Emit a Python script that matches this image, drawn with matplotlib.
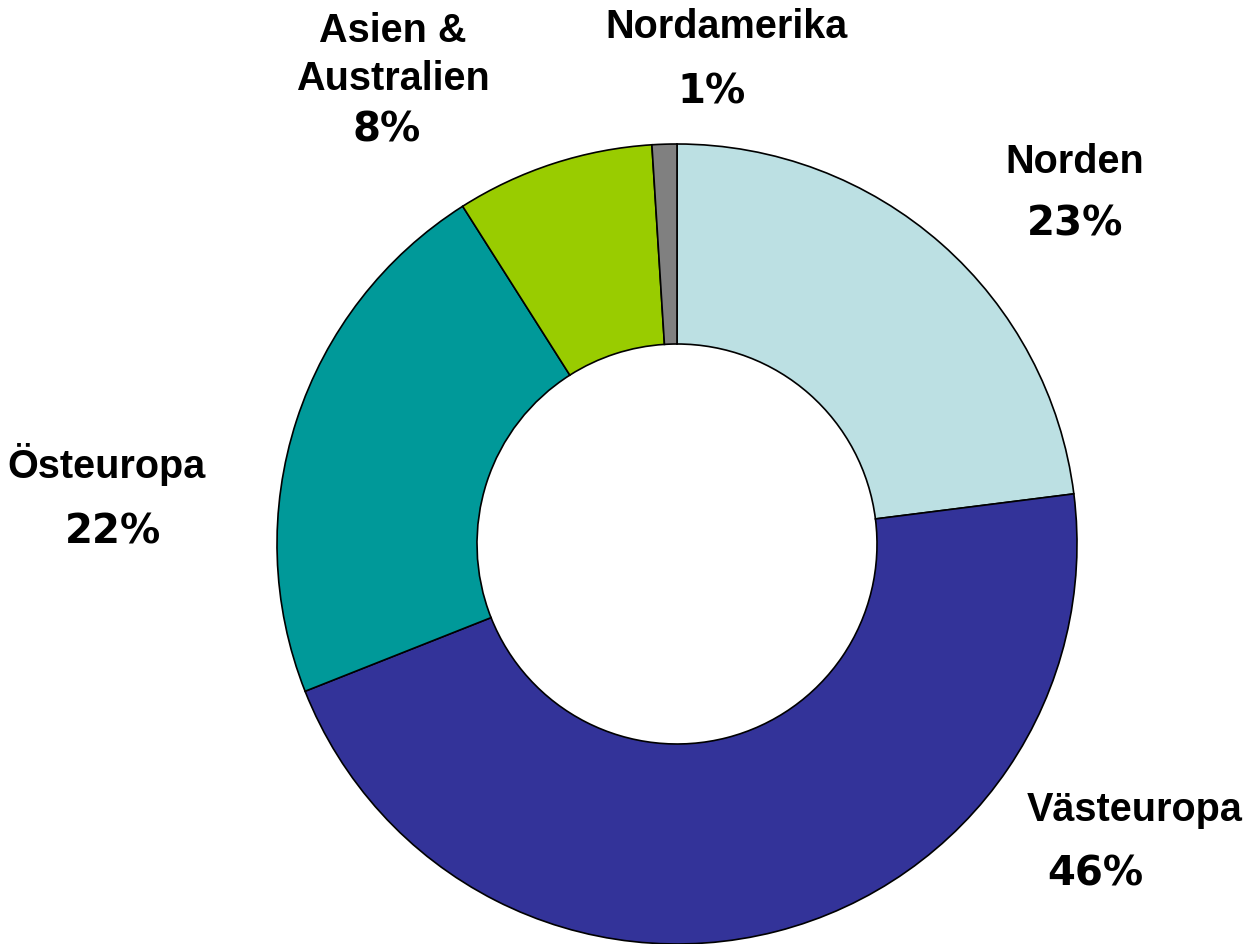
import matplotlib
matplotlib.use("Agg")
import matplotlib.pyplot as plt

# market shares, clockwise from the top
regions = ["Norden", "Västeuropa", "Östeuropa", "Asien &\nAustralien", "Nordamerika"]
shares = [23, 46, 22, 8, 1]
colors = ["#BCE0E3", "#333399", "#009999", "#99CC00", "#808080"]

W, H = 1243, 944


def main():
    fig = plt.figure(figsize=(W / 100, H / 100), dpi=100)
    ax = fig.add_axes([0, 0, 1, 1])

    ax.pie(
        shares,
        colors=colors,
        startangle=90,
        counterclock=False,
        radius=400,
        center=(677, H - 544),
        wedgeprops=dict(width=200, edgecolor="black", linewidth=1.2),
    )
    ax.set_xlim(0, W)
    ax.set_ylim(0, H)
    ax.set_aspect("equal")
    ax.axis("off")

    name_font = dict(family=["Liberation Sans Narrow", "Liberation Sans", "DejaVu Sans"],
                     fontweight="bold", fontsize=28.5)
    pct_font = dict(family="DejaVu Sans", fontweight="bold", fontsize=29)

    # label positions in pixels (name x, name y, pct x, pct y)
    pos = {
        "Norden": (1075, 162, 1075, 225),
        "Västeuropa": (1135, 810, 1095, 875),
        "Östeuropa": (107, 465, 113, 532),
        "Asien &\nAustralien": (393, 55, 387, 130),
        "Nordamerika": (727, 27, 712, 93),
    }
    for name, val in zip(regions, shares):
        nx, ny, px, py = pos[name]
        ax.text(nx, H - ny, name, ha="center", va="center",
                linespacing=1.35, **name_font)
        ax.text(px, H - py, f"{val}%", ha="center", va="center", **pct_font)

    fig.savefig("out.png", dpi=100)


if __name__ == "__main__":
    main()
